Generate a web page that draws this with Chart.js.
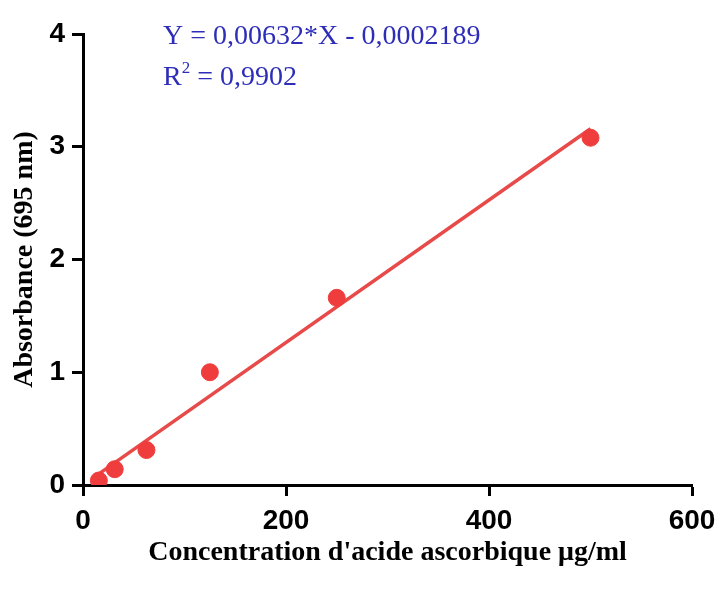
<!DOCTYPE html>
<html>
<head>
<meta charset="utf-8">
<script src="https://cdn.jsdelivr.net/npm/chart.js@4"></script>
<style>
html,body{margin:0;padding:0;background:#fff;}
#wrap{position:relative;width:718px;height:590px;}
</style>
</head>
<body>
<div id="wrap"><canvas id="c" width="718" height="590"></canvas></div>
<script>
// Data
const concentrations = [15.625, 31.25, 62.5, 125, 250, 500];
const absorbances = [0.04, 0.14, 0.31, 1.00, 1.66, 3.08];
// Regression line end points (Y = 0.00632*X - 0.0002189)
const fitX = [15.625, 500];
const fitY = [0.0985, 3.1598];
const xTicks = [0, 200, 400, 600];
const yTicks = [0, 1, 2, 3, 4];
const equationLine = "Y = 0,00632*X - 0,0002189";
const r2Value = "0,9902";
const xTitle = "Concentration d'acide ascorbique \u03bcg/ml";
const yTitle = "Absorbance (695 nm)";

const tickFont = {family: "'Liberation Sans Narrow', 'Arial Narrow', 'Liberation Sans', Arial, sans-serif", size: 28, weight: 'bold'};
const titleFont = {family: "'Liberation Serif', 'Times New Roman', serif", size: 28, weight: 'bold'};

const eqPlugin = {
  id: 'eq',
  afterDraw(chart) {
    const ctx = chart.ctx;
    ctx.save();
    ctx.fillStyle = '#2d2db8';
    ctx.textBaseline = 'alphabetic';
    ctx.textAlign = 'left';
    ctx.font = "28px 'Liberation Serif', 'Times New Roman', serif";
    ctx.fillText(equationLine, 163, 44);
    let x = 163;
    ctx.fillText('R', x, 85);
    x += ctx.measureText('R').width;
    ctx.font = "17px 'Liberation Serif', 'Times New Roman', serif";
    ctx.fillText('2', x, 73);
    x += ctx.measureText('2').width;
    ctx.font = "28px 'Liberation Serif', 'Times New Roman', serif";
    ctx.fillText(' = ' + r2Value, x, 85);
    ctx.restore();
  }
};

new Chart(document.getElementById('c'), {
  type: 'scatter',
  data: {
    datasets: [
      {
        type: 'line',
        data: fitX.map((x, i) => ({x, y: fitY[i]})),
        borderColor: '#e84a4a',
        borderWidth: 3.5,
        pointRadius: 0,
        fill: false,
        order: 2
      },
      {
        data: concentrations.map((x, i) => ({x, y: absorbances[i]})),
        backgroundColor: '#ef3d3d',
        borderColor: '#ef3d3d',
        pointRadius: 8.5,
        pointHoverRadius: 8.5,
        order: 1
      }
    ]
  },
  options: {
    responsive: false,
    animation: false,
    events: [],
    layout: {padding: {top: 34, right: 26, bottom: 0, left: 0}},
    plugins: {legend: {display: false}, tooltip: {enabled: false}},
    scales: {
      x: {
        type: 'linear',
        min: 0, max: 600,
        afterBuildTicks(s) { s.ticks = xTicks.map(v => ({value: v})); },
        afterFit(s) { s.height = 105; s.paddingRight = 0; s.paddingLeft = 0; },
        border: {display: true, color: '#000', width: 3},
        grid: {display: true, drawOnChartArea: false, drawTicks: true, tickLength: 11, tickColor: '#000', tickWidth: 3},
        ticks: {color: '#000', font: tickFont, padding: 8, maxRotation: 0},
        title: {display: true, text: xTitle, color: '#000', font: titleFont, padding: {top: 0, bottom: 20}}
      },
      y: {
        type: 'linear',
        min: 0, max: 4,
        afterBuildTicks(s) { s.ticks = yTicks.map(v => ({value: v})); },
        afterFit(s) { s.width = 83; s.paddingTop = 0; s.paddingBottom = 0; },
        border: {display: true, color: '#000', width: 3},
        grid: {display: true, drawOnChartArea: false, drawTicks: true, tickLength: 11, tickColor: '#000', tickWidth: 3},
        ticks: {color: '#000', font: tickFont, padding: 7},
        title: {display: true, text: yTitle, color: '#000', font: titleFont, padding: {top: 8, bottom: 0}}
      }
    }
  },
  plugins: [eqPlugin]
});
</script>
</body>
</html>
